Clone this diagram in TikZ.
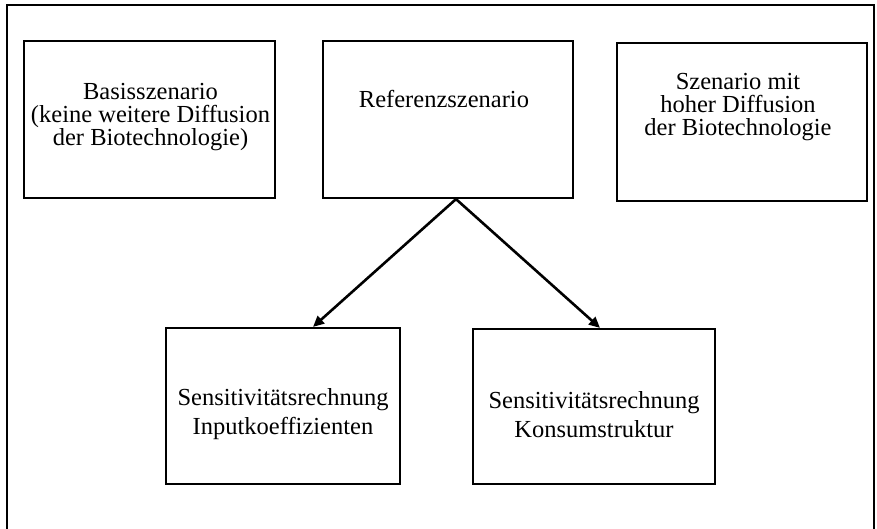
\documentclass[tikz,border=0pt]{standalone}
\usepackage{fontspec}
\setmainfont{Liberation Serif}
\usetikzlibrary{arrows.meta}
\tikzset{
  box/.style={draw=black, line width=2.2pt, rectangle, inner sep=0pt},
  toptext/.style={align=center, inner sep=0pt, text=black, font=\fontsize{24.5}{23}\selectfont},
  bottext/.style={align=center, inner sep=0pt, text=black, font=\fontsize{24.5}{29}\selectfont},
  conn/.style={line width=2.6pt, draw=black, -{Triangle[length=11pt,width=10pt]}},
  frame/.style={line width=2.2pt, draw=black}
}
\begin{document}
\begin{tikzpicture}[x=1pt,y=-1pt]
\useasboundingbox (0,0) rectangle (877,529);
\draw[frame] (7,532) -- (7,5) -- (874,5) -- (874,532);
\node[box, minimum width=251pt, minimum height=157pt] (b1) at (149.5,119.5) {};
\node[box, minimum width=250pt, minimum height=157pt] (b2) at (448,119.5) {};
\node[box, minimum width=250pt, minimum height=158pt] (b3) at (742,122) {};
\node[box, minimum width=234pt, minimum height=156pt] (b4) at (283,406) {};
\node[box, minimum width=242pt, minimum height=155pt] (b5) at (594,406.5) {};
\node[toptext] (t1) at (150.5,117) {Basisszenario\\(keine weitere Diffusion\\der Biotechnologie)};
\node[toptext] (t2) at (444,99) {Referenzszenario};
\node[toptext] (t3) at (738,107) {Szenario mit\\hoher Diffusion\\der Biotechnologie};
\node[bottext] (t4) at (283,414) {Sensitivitätsrechnung\\Inputkoeffizienten};
\node[bottext] (t5) at (594,415) {Sensitivitätsrechnung\\Konsumstruktur};
\coordinate (s) at ([xshift=8pt]b2.south);
\coordinate (e4) at ([xshift=30pt]b4.north);
\coordinate (e5) at ([xshift=6pt]b5.north);
\draw[conn] (s) -- (e4);
\draw[conn] (s) -- (e5);
\end{tikzpicture}
\end{document}
